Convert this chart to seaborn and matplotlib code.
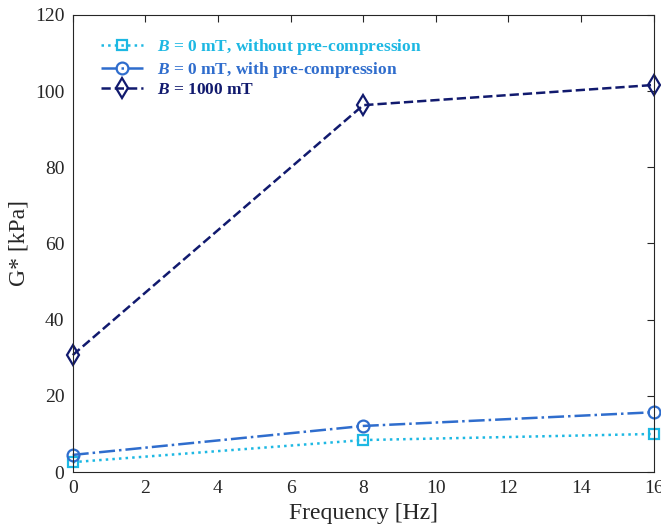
import matplotlib
matplotlib.use("Agg")
import matplotlib.pyplot as plt
import seaborn as sns
import pandas as pd

freq = [0, 8, 16]
g_no_pre = [2.6, 8.4, 10.0]
g_pre = [4.5, 12.1, 15.7]
g_1000 = [30.7, 96.3, 101.6]
labels = ["$B$ = 0 mT, without pre-compression",
          "$B$ = 0 mT, with pre-compression",
          "$B$ = 1000 mT"]
colors = ["#1db8e3", "#2f6dcd", "#111a6e"]
styles = [":", "-.", "--"]
markers = ["s", "o", "d"]
msizes = [7.5, 8.5, 10]

sns.set_theme(style="white")
plt.rcParams["font.family"] = ["Liberation Serif", "DejaVu Serif"]
plt.rcParams["mathtext.fontset"] = "custom"
plt.rcParams["mathtext.rm"] = "Liberation Serif:bold"
plt.rcParams["mathtext.it"] = "Liberation Serif:italic:bold"

fig = plt.figure(figsize=(6.61, 5.31), dpi=100)
ax = fig.add_axes([0.110, 0.111, 0.879, 0.861])

for vals, lab, c, ls, mk, ms in zip([g_no_pre, g_pre, g_1000], labels, colors, styles, markers, msizes):
    df = pd.DataFrame({"f": freq, "g": vals})
    sns.lineplot(data=df, x="f", y="g", ax=ax, color=c, linestyle=ls, marker=mk,
                 markersize=ms, markerfacecolor="none", markeredgecolor=c,
                 markeredgewidth=1.6, linewidth=1.8, label=lab, clip_on=False)

ax.set_xlim(0, 16)
ax.set_ylim(0, 120)
ax.set_xticks(range(0, 17, 2))
ax.set_yticks(range(0, 121, 20))
ax.tick_params(direction="in", top=True, right=True, length=5, width=0.8,
               labelsize=14, colors="#262626", pad=6)
for s in ax.spines.values():
    s.set_color("#262626")
    s.set_linewidth(0.8)
ax.set_xlabel("Frequency [Hz]", fontsize=17, color="#262626")
ax.set_ylabel("G* [kPa]", fontsize=17, color="#262626")

leg = ax.legend(loc="upper left", frameon=False, fontsize=12.5, handlelength=2.4,
                borderaxespad=0.4, labelspacing=0.15, handletextpad=0.8,
                bbox_to_anchor=(0.025, 0.982))
for t, c in zip(leg.get_texts(), colors):
    t.set_color(c)
    t.set_fontweight("bold")

fig.savefig("out.png", dpi=100)
